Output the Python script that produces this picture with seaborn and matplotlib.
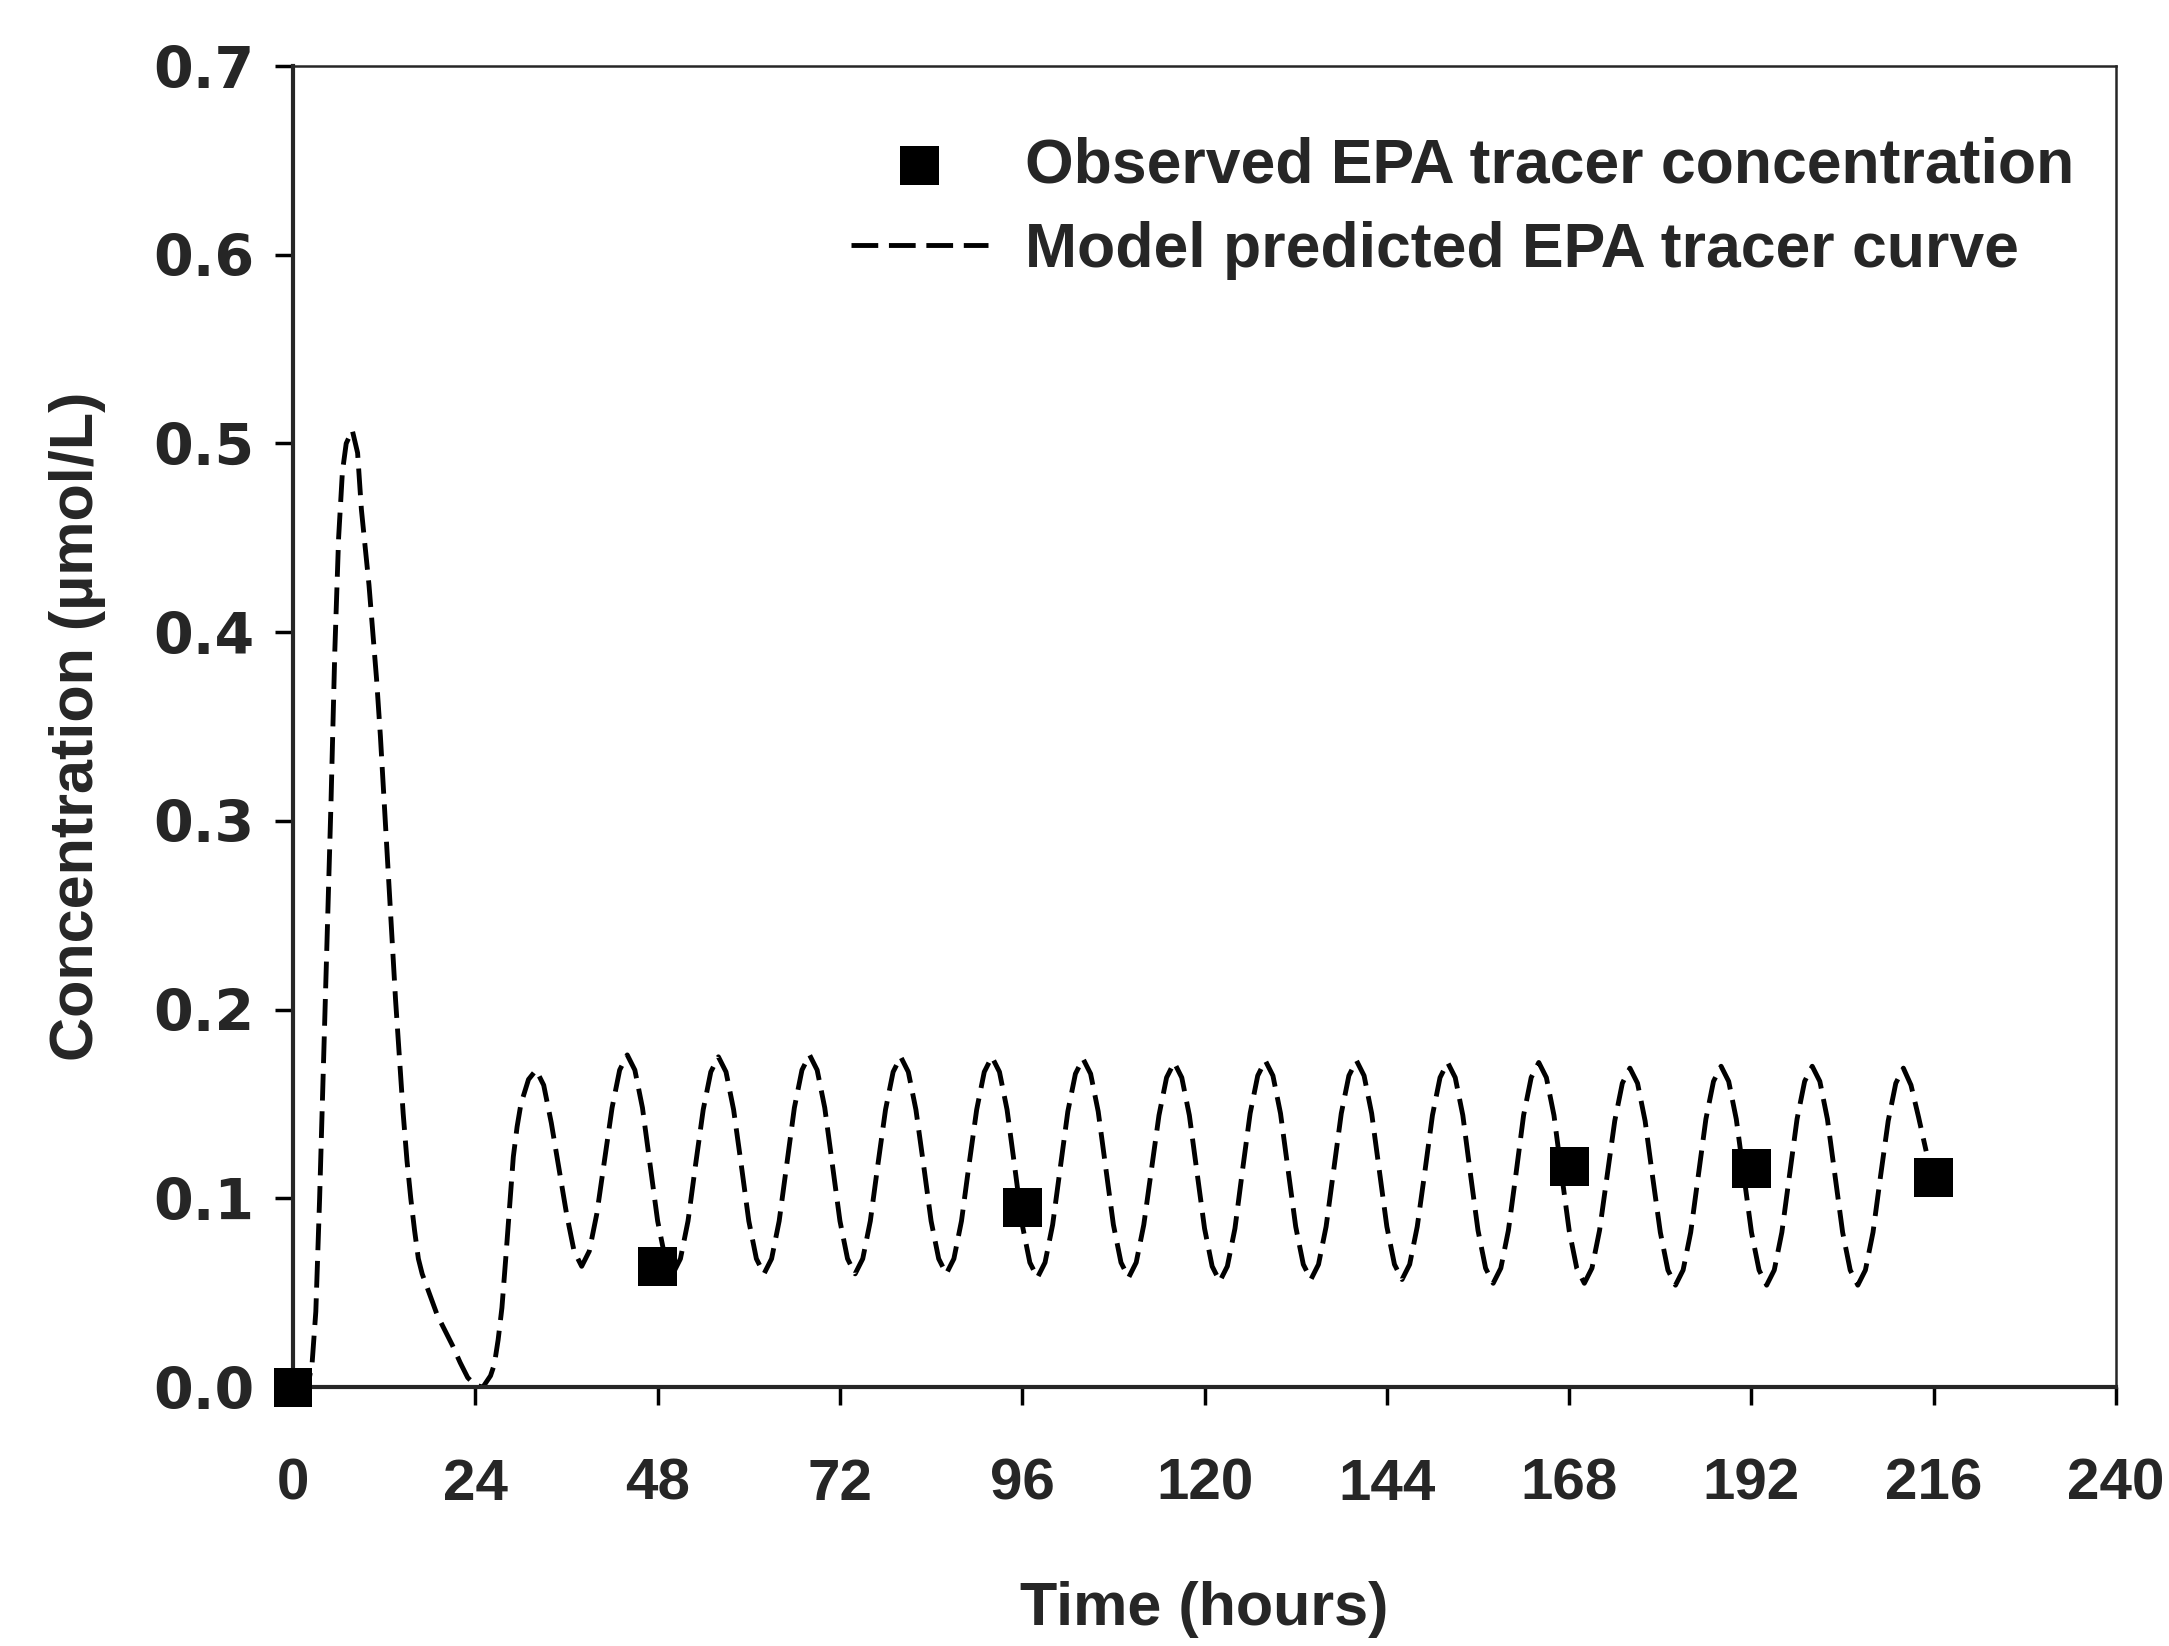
import matplotlib
matplotlib.use("Agg")
import matplotlib.pyplot as plt
import seaborn as sns
import pandas as pd

# observed EPA tracer points (hours, umol/L)
obs_hours = [0, 48, 96, 168, 192, 216]
obs_conc = [0.0, 0.064, 0.095, 0.117, 0.116, 0.111]

# model curve: first big peak and the dip at ~24 h
early_hours = [0, 1, 2, 2.5, 3, 3.5, 4, 4.5, 5, 5.5, 6, 6.5, 7, 7.8, 8.5,
               9, 9.5, 10, 10.5, 11, 11.5, 12, 12.5, 13, 13.5, 14, 14.5, 15,
               15.5, 16, 16.5, 17, 18, 19, 20, 21, 22, 23, 24, 25, 26, 26.5,
               27, 27.5, 28, 28.5, 29, 29.5, 30, 31, 32]
early_conc = [0.0, 0.0, 0.002, 0.012, 0.04, 0.10, 0.17, 0.24, 0.31, 0.39,
              0.45, 0.485, 0.50, 0.507, 0.495, 0.465, 0.445, 0.425, 0.40,
              0.375, 0.345, 0.31, 0.275, 0.24, 0.205, 0.175, 0.145, 0.12,
              0.10, 0.083, 0.068, 0.06, 0.049, 0.038, 0.03, 0.022, 0.013,
              0.005, 0.001, 0.0, 0.006, 0.012, 0.025, 0.042, 0.068, 0.095,
              0.122, 0.138, 0.150, 0.163, 0.168]

# then hourly from 33 h to 215 h, one row per 12 h cycle
cycle_hours = list(range(33, 216))
cycle_conc = [
    .160, .140, .116, .092, .072, .064, .072, .092, .120, .148, .168, .176,
    .168, .148, .118, .088, .068, .060, .068, .088, .118, .147, .167, .175,
    .167, .147, .118, .088, .068, .060, .068, .088, .118, .148, .168, .176,
    .168, .148, .118, .088, .068, .060, .068, .088, .118, .147, .167, .175,
    .167, .147, .118, .088, .068, .060, .068, .088, .118, .147, .167, .175,
    .167, .147, .117, .086, .066, .058, .066, .086, .116, .146, .166, .174,
    .166, .146, .116, .086, .066, .058, .066, .086, .115, .144, .164, .172,
    .164, .144, .114, .084, .064, .056, .064, .084, .115, .145, .165, .173,
    .165, .145, .115, .085, .065, .057, .065, .085, .115, .145, .165, .173,
    .165, .145, .115, .085, .065, .057, .065, .085, .114, .144, .164, .172,
    .164, .144, .113, .083, .063, .055, .063, .083, .113, .144, .164, .172,
    .164, .144, .113, .083, .063, .055, .063, .083, .112, .141, .161, .169,
    .161, .141, .111, .082, .062, .054, .062, .082, .112, .142, .162, .170,
    .162, .142, .112, .082, .062, .054, .062, .082, .112, .142, .162, .170,
    .162, .142, .112, .082, .062, .054, .062, .082, .112, .141, .161, .169,
    .160, .143, .125,
]

model = pd.DataFrame({"hours": early_hours + cycle_hours,
                      "conc": early_conc + cycle_conc})
observed = pd.DataFrame({"hours": obs_hours, "conc": obs_conc})

sns.set_style("ticks")
plt.rcParams["font.family"] = ["Liberation Sans", "DejaVu Sans"]
plt.rcParams["font.weight"] = "bold"

fig = plt.figure(figsize=(21.69, 16.46), dpi=100)
ax = fig.add_axes([0.1351, 0.1573, 0.8405, 0.8026])

sns.lineplot(data=model, x="hours", y="conc", ax=ax, color="black",
             lw=3.5, linestyle=(0, (5.5, 2.2)), estimator=None, sort=False,
             label="Model predicted EPA tracer curve")
sns.scatterplot(data=observed, x="hours", y="conc", ax=ax, color="black",
                marker="s", s=28 ** 2, edgecolor="none", zorder=3,
                clip_on=False, label="Observed EPA tracer concentration")

ax.set_xlim(0, 240)
ax.set_ylim(0, 0.7)
ax.set_xticks(range(0, 241, 24))
ax.set_yticks([i / 10 for i in range(8)])
ax.set_yticklabels([f"{i / 10:.1f}" for i in range(8)],
                   family="DejaVu Sans", fontsize=41, fontweight="bold")

for side in ["left", "bottom"]:
    ax.spines[side].set_linewidth(3)
for side in ["top", "right"]:
    ax.spines[side].set_linewidth(1.8)
    ax.spines[side].set_visible(True)

ax.tick_params(axis="both", direction="out", length=13, width=2.5,
               color="black")
ax.tick_params(axis="x", pad=38, labelsize=42)
ax.tick_params(axis="y", pad=15)

ax.set_xlabel("Time (hours)", fontsize=44, fontweight="bold")
ax.set_ylabel("Concentration (µmol/L)", fontsize=44, fontweight="bold")
ax.xaxis.set_label_coords(0.5, -0.147)
ax.yaxis.set_label_coords(-0.1025, 0.5)

handles, labels = ax.get_legend_handles_labels()
order = [labels.index("Observed EPA tracer concentration"),
         labels.index("Model predicted EPA tracer curve")]
ax.legend([handles[i] for i in order], [labels[i] for i in order],
          loc="upper left", bbox_to_anchor=(0.306, 0.947), frameon=False,
          fontsize=45, handlelength=2.2, handletextpad=0.58,
          borderpad=0, borderaxespad=0, labelspacing=0.42)

fig.savefig("out.png", dpi=100)
